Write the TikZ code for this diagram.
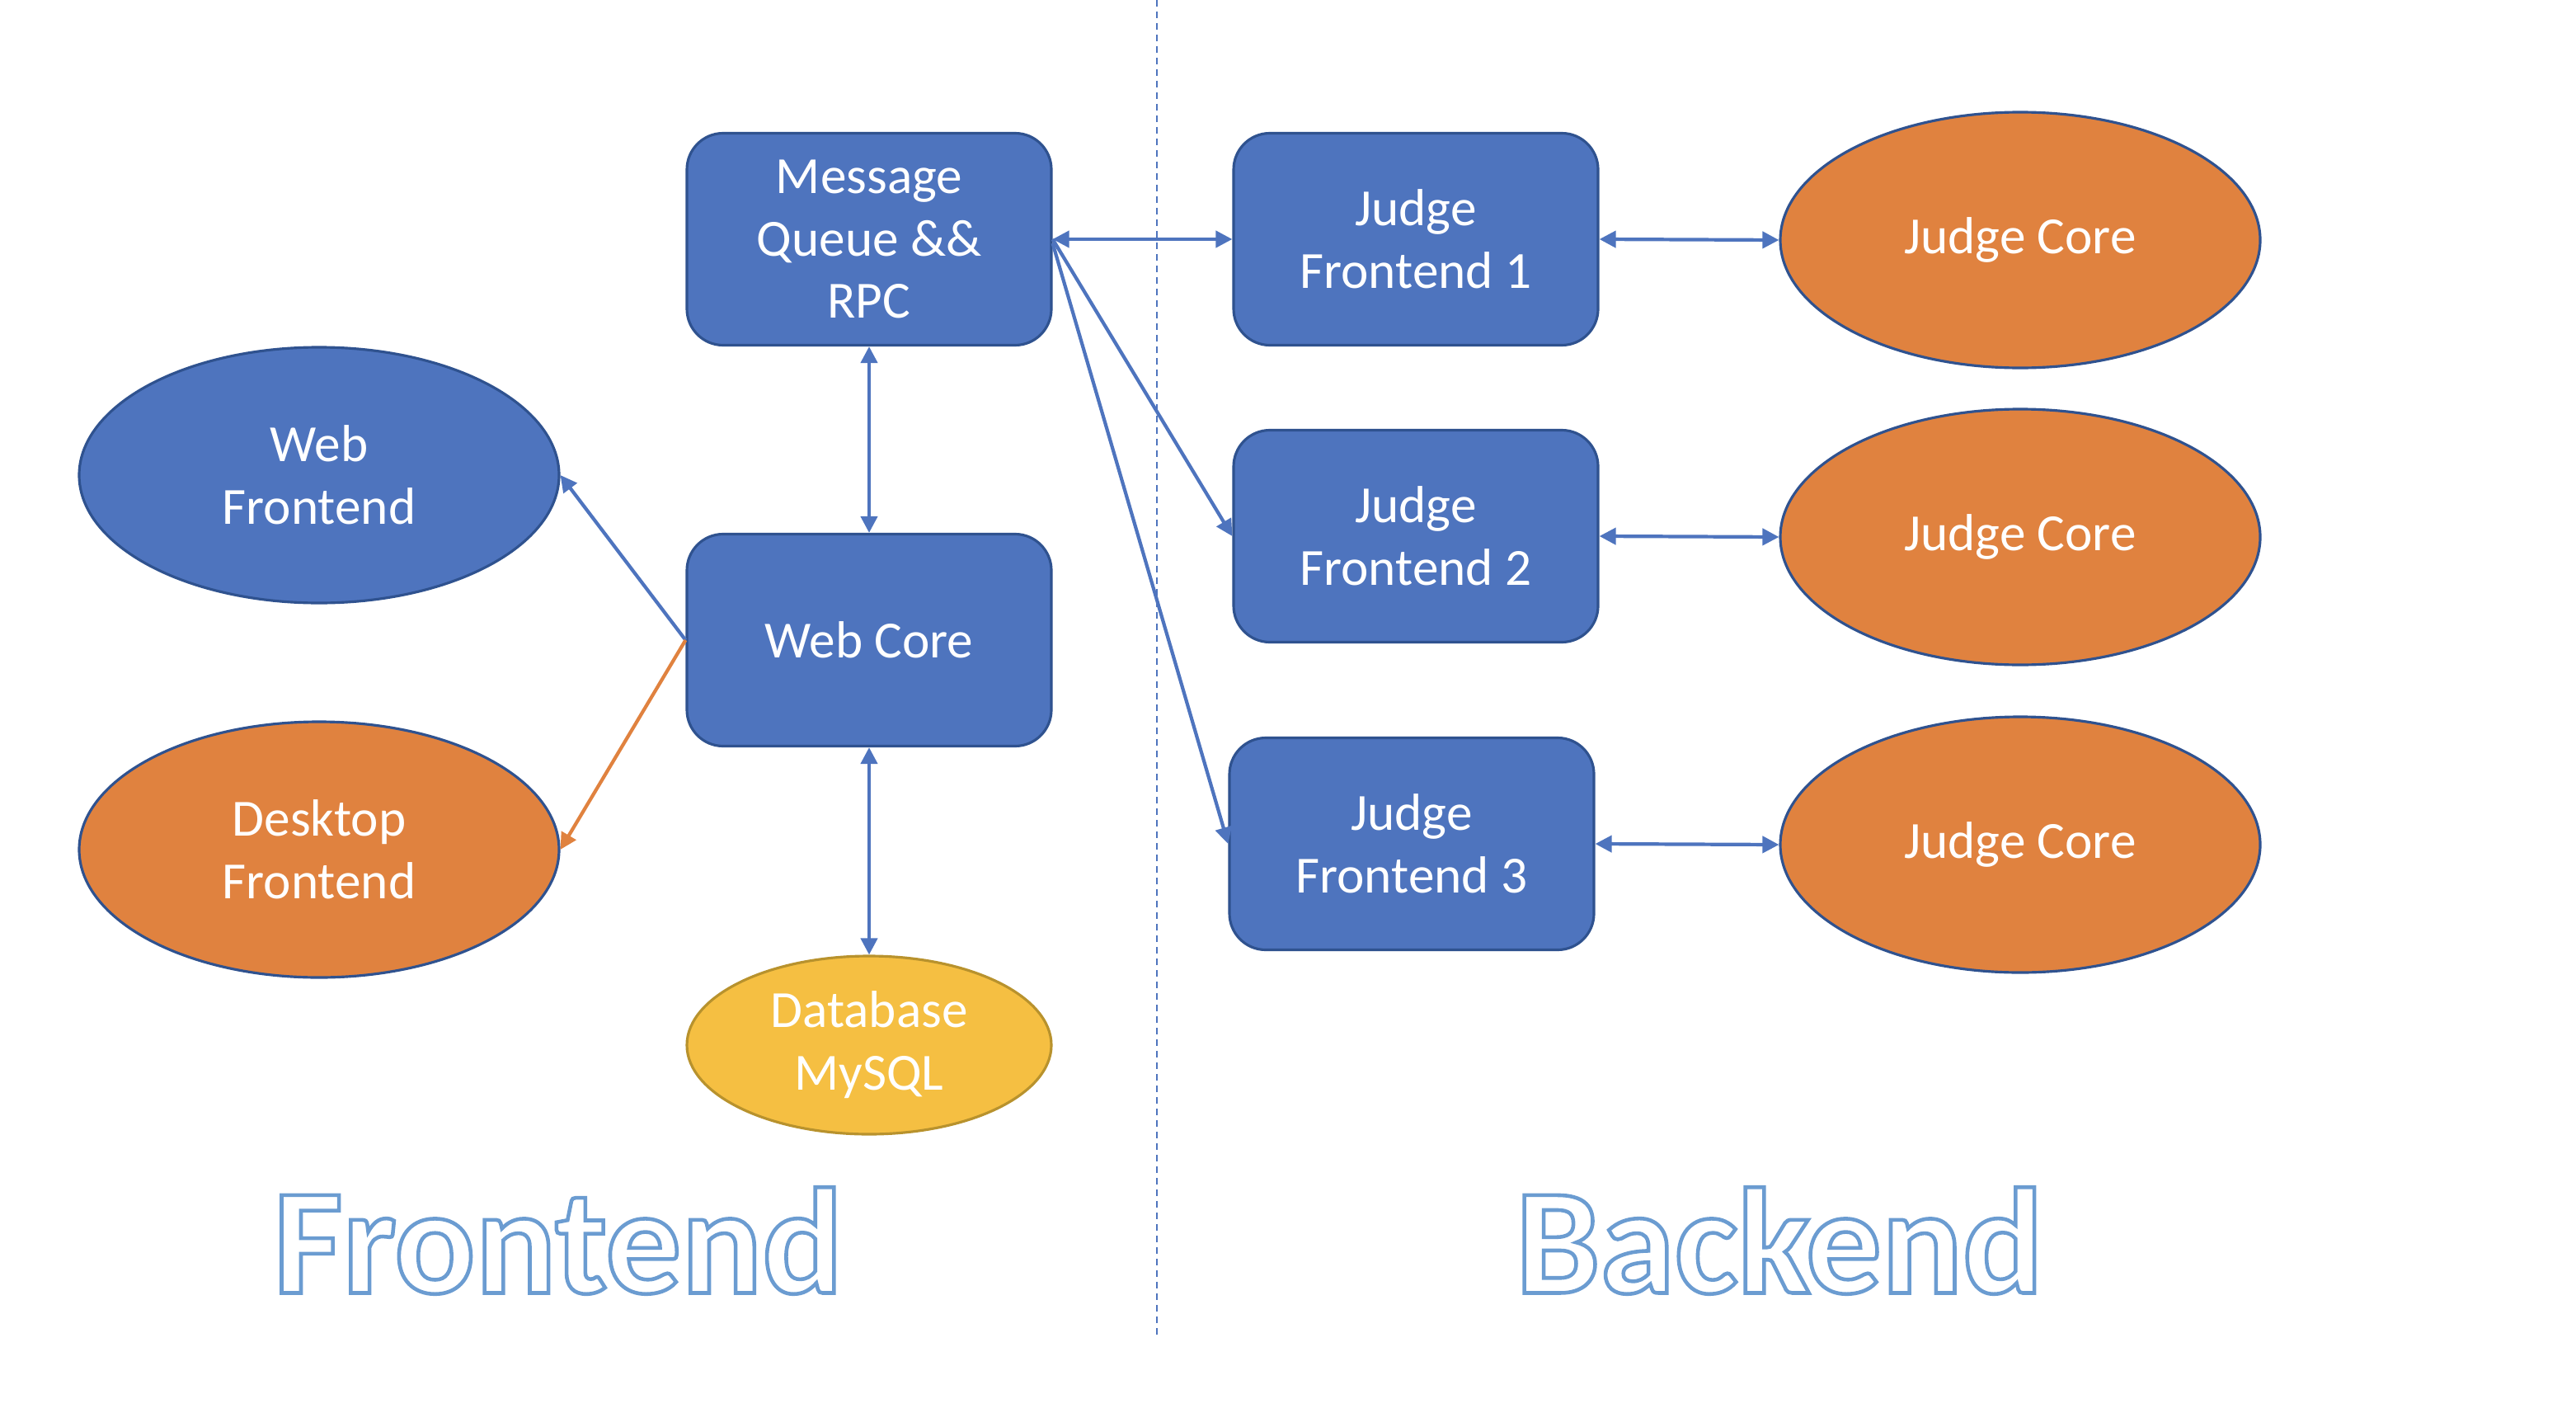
\documentclass[tikz,border=0pt]{standalone}
\usepackage{fontspec}
\setmainfont{Carlito}
\usetikzlibrary{arrows.meta,shapes.geometric}
\definecolor{boxblue}{HTML}{4E74BE}
\definecolor{edgeblue}{HTML}{2F528F}
\definecolor{boxorange}{HTML}{E0823F}
\definecolor{boxyellow}{HTML}{F5BF42}
\definecolor{edgegold}{HTML}{B8922D}
% white letters with a light blue outline
\newcommand{\outlined}[1]{\special{pdf:literal direct q 0.42 0.61 0.82 RG 1 1 1 rg 2 Tr 1.3 w}#1\special{pdf:literal direct Q}}
\tikzset{
  bluebox/.style={draw=edgeblue,line width=0.9pt,fill=boxblue,rounded corners=0.44cm,
    minimum width=4.42cm,minimum height=2.57cm,inner sep=0pt,align=center,text=white,
    font=\fontsize{18}{21.6}\selectfont},
  oval/.style={ellipse,draw=edgeblue,line width=0.9pt,minimum width=5.82cm,minimum height=3.10cm,
    inner sep=0pt,align=center,text=white,font=\fontsize{18}{21.6}\selectfont},
  link/.style={boxblue,line width=1.2pt,{Triangle[length=5.7pt,width=5.7pt]}-{Triangle[length=5.7pt,width=5.7pt]}},
  onelink/.style={boxblue,line width=1.2pt,-{Triangle[length=5.7pt,width=5.7pt]}},
  bigtitle/.style={font=\fontsize{52}{56}\selectfont\bfseries}
}
\begin{document}
\begin{tikzpicture}
    \useasboundingbox (0,0) rectangle (31.24,-17.12);
    \draw[boxblue,line width=0.6pt,dash pattern=on 0.08cm off 0.06cm] (14.03,0) -- (14.03,-16.18); %divider
    % frontend side
    \node[bluebox] (mq) at (10.54,-2.90) {Message\\Queue \&\&\\RPC};
    \node[bluebox] (webcore) at (10.54,-7.76) {Web Core};
    \node[oval,fill=boxblue] (webfe) at (3.87,-5.76) {Web\\Frontend};
    \node[oval,fill=boxorange] (deskfe) at (3.87,-10.30) {Desktop\\Frontend};
    \node[oval,draw=edgegold,fill=boxyellow,minimum width=4.42cm,minimum height=2.16cm] (db) at (10.54,-12.67) {Database\\MySQL};
    % backend side
    \node[bluebox] (jf1) at (17.17,-2.90) {Judge\\Frontend 1};
    \node[bluebox] (jf2) at (17.17,-6.50) {Judge\\Frontend 2};
    \node[bluebox] (jf3) at (17.12,-10.23) {Judge\\Frontend 3};
    \node[oval,fill=boxorange] (jc1) at (24.50,-2.91) {Judge Core};
    \node[oval,fill=boxorange] (jc2) at (24.50,-6.51) {Judge Core};
    \node[oval,fill=boxorange] (jc3) at (24.50,-10.24) {Judge Core};
    % links
    \draw[link] (mq.south) -- (webcore.north);
    \draw[link] (webcore.south) -- (db.north);
    \draw[onelink] (webcore.west) -- (webfe.east);
    \draw[onelink,boxorange] (webcore.west) -- (deskfe.east);
    \draw[link] (mq.east) -- (jf1.west);
    \draw[onelink] (mq.east) -- (jf2.west);
    \draw[onelink] ([yshift=-0.05cm]mq.east) -- (jf3.west);
    \draw[link] (jf1.east) -- (jc1.west);
    \draw[link] (jf2.east) -- (jc2.west);
    \draw[link] (jf3.east) -- (jc3.west);
    % titles
    \node[bigtitle] (fetitle) at (6.77,-15.04) {\outlined{Frontend}};
    \node[bigtitle] (betitle) at (21.58,-15.04) {\outlined{Backend}};
\end{tikzpicture}
\end{document}
